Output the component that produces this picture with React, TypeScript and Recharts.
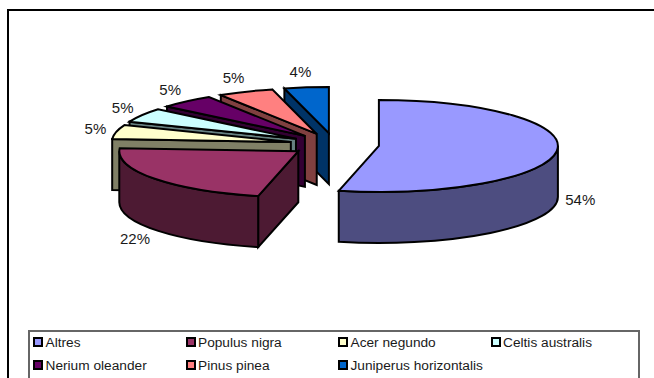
import { PieChart, Pie, Legend } from "recharts";

const species = [
  "Altres",
  "Populus nigra",
  "Acer negundo",
  "Celtis australis",
  "Nerium oleander",
  "Pinus pinea",
  "Juniperus horizontalis",
];
const shares = [54, 22, 5, 5, 5, 5, 4];
const topColors = ["#9999FF", "#993366", "#FFFFCC", "#CCFFFF", "#660066", "#FF8080", "#0066CC"];
const sideColors = ["#4D4D80", "#4D1A33", "#808066", "#668080", "#330033", "#804040", "#003366"];

const FONT = "'Liberation Sans', Arial, sans-serif";
const TILT = 46 / 179; // vertical squash of the pie disc
const DEPTH = 51;
const EXPLODE = 0.25;
const RAD = Math.PI / 180;

// painted back to front, so the list runs counter-clockwise from 12 o'clock
const pieData = species
  .map((name, i) => ({ name, value: shares[i], fill: topColors[i], side: sideColors[i] }))
  .reverse();

function clockAngles(props: any) {
  let from = 90 - props.endAngle;
  let to = 90 - props.startAngle;
  while (from < 0) {
    from += 360;
    to += 360;
  }
  return [from, to];
}

// the near half of the disc is foreshortened a little towards 6 o'clock
function viewAngle(deg: number) {
  const a = ((deg % 360) + 360) % 360;
  if (a <= 90 || a >= 270) return deg;
  return deg - 3 * Math.sin(2 * (a - 180) * RAD);
}

function explodedCentre(props: any) {
  const mid = 90 - props.midAngle;
  const r = props.outerRadius * EXPLODE;
  return {
    x: props.cx + r * Math.sin(mid * RAD),
    y: props.cy - r * TILT * Math.cos(mid * RAD),
  };
}

function Slice3D(props: any) {
  const [rawFrom, rawTo] = clockAngles(props);
  const from = viewAngle(rawFrom);
  const to = viewAngle(rawTo);
  const c = explodedCentre(props);
  const rx = props.outerRadius;
  const ry = rx * TILT;
  const rim = (deg: number, drop = 0) =>
    `${c.x + rx * Math.sin(deg * RAD)} ${c.y - ry * Math.cos(deg * RAD) + drop}`;
  const cutFace = (deg: number) =>
    `M${c.x} ${c.y} L${rim(deg)} L${rim(deg, DEPTH)} L${c.x} ${c.y + DEPTH} Z`;

  const wallFrom = Math.max(from, 90);
  const wallTo = Math.min(to, 270);
  const line = { stroke: "#000", strokeWidth: 2, strokeLinejoin: "miter" as const, strokeMiterlimit: 4 };

  return (
    <g>
      {Math.sin(from * RAD) < -0.001 && <path d={cutFace(from)} fill={props.side} {...line} />}
      {Math.sin(to * RAD) > 0.001 && <path d={cutFace(to)} fill={props.side} {...line} />}
      {wallTo > wallFrom && (
        <path
          d={`M${rim(wallFrom)} A${rx} ${ry} 0 0 1 ${rim(wallTo)} L${rim(wallTo, DEPTH)} A${rx} ${ry} 0 0 0 ${rim(wallFrom, DEPTH)} Z`}
          fill={props.side}
          {...line}
        />
      )}
      <path
        d={`M${c.x} ${c.y} L${rim(from)} A${rx} ${ry} 0 ${to - from > 180 ? 1 : 0} 1 ${rim(to)} Z`}
        fill={props.fill}
        {...line}
      />
    </g>
  );
}

function percentLabel(props: any) {
  const mid = 90 - props.midAngle;
  const c = explodedCentre(props);
  const s = Math.sin(mid * RAD);
  const k = Math.cos(mid * RAD);
  const side = s > 0 ? 24 * s : -21 * Math.pow(-s, 0.6);
  const x = c.x + props.outerRadius * s + side;
  let y = c.y - (props.outerRadius * TILT + 16) * k;
  if (k < 0) y += (DEPTH + 1) * (0.86 - 0.2 * k);
  return (
    <text x={x} y={y} textAnchor="middle" dominantBaseline="central" fontFamily={FONT} fontSize={15} fill="#1a1a1a">
      {Math.round(props.percent * 100)}%
    </text>
  );
}

function SpeciesLegend() {
  return (
    <div
      style={{
        boxSizing: "border-box",
        width: 612,
        height: 70,
        border: "2px solid #666",
        paddingLeft: 3,
        display: "grid",
        gridTemplateColumns: "repeat(4, 152.5px)",
        gridAutoRows: "22.7px",
        alignContent: "start",
        fontFamily: FONT,
        fontSize: 13.7,
        color: "#1a1a1a",
      }}
    >
      {species.map((name, i) => (
        <div key={name} style={{ display: "flex", alignItems: "center", whiteSpace: "nowrap", position: "relative", top: -1 }}>
          <span
            style={{
              boxSizing: "border-box",
              flex: "none",
              width: 10,
              height: 10,
              marginRight: 2.5,
              border: "2px solid #000",
              background: topColors[i],
            }}
          />
          {name}
        </div>
      ))}
    </div>
  );
}

export default function App() {
  return (
    <div style={{ position: "absolute", left: 0, top: 0, width: 654, height: 378, overflow: "hidden", background: "#fff" }}>
      <div
        style={{
          position: "absolute",
          left: 7,
          top: 9,
          width: 700,
          height: 420,
          borderTop: "2px solid #000",
          borderLeft: "2px solid #000",
        }}
      />
      <div style={{ position: "absolute", left: 0, top: 0 }}>
        <PieChart width={654} height={378} margin={{ top: 0, right: 0, bottom: 0, left: 0 }}>
          <Pie
            data={pieData}
            dataKey="value"
            nameKey="name"
            cx={334.5}
            cy={144.5}
            outerRadius={179}
            startAngle={90}
            endAngle={450}
            stroke="none"
            shape={Slice3D}
            label={percentLabel}
            labelLine={false}
            isAnimationActive={false}
          />
          <Legend
            content={<SpeciesLegend />}
            layout="horizontal"
            wrapperStyle={{ left: 28, top: 330, width: 612, height: 70 }}
          />
        </PieChart>
      </div>
    </div>
  );
}
